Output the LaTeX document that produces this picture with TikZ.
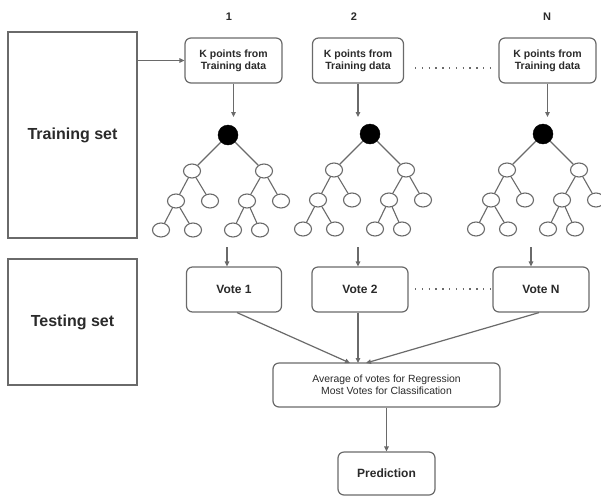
\documentclass[tikz,border=0pt]{standalone}
\usepackage{fontspec}
\setmainfont{Liberation Sans}
\usetikzlibrary{arrows.meta,shapes.geometric,calc}
\definecolor{linegray}{HTML}{6A6A6A}
\definecolor{textc}{HTML}{2A2A2A}
\tikzset{
  box/.style={draw=linegray, rounded corners=6pt, line width=1.2pt, inner sep=0pt, align=center, text=textc},
  bigbox/.style={draw=linegray, line width=1.2pt, inner sep=0pt, align=center, text=textc, font=\bfseries\fontsize{16}{19}\selectfont},
  kbox/.style={box, minimum height=45pt, font=\bfseries\fontsize{10.5}{12}\selectfont},
  vbox/.style={box, minimum height=45pt, font=\bfseries\fontsize{12}{14}\selectfont},
  rootnode/.style={circle, fill=black, draw=black, minimum size=20pt, inner sep=0pt},
  leaf/.style={ellipse, draw=linegray, line width=1.1pt, minimum width=17pt, minimum height=14pt, inner sep=0pt, fill=white},
  edge/.style={draw=linegray, line width=1.1pt},
  conn/.style={draw=linegray, line width=1.2pt, -{Triangle[length=5pt,width=4.5pt]}},
  dots/.style={draw=linegray, line width=1.3pt, dash pattern=on 1.3pt off 5.5pt},
  lbl/.style={text=textc, font=\bfseries\fontsize{11}{13}\selectfont, inner sep=0pt}
}
\newcommand\rftree[3]{%
  \node[rootnode] (#1r) at (#2,#3) {};
  \node[leaf] (#1a) at ($(#1r)+(-36,36)$) {};
  \node[leaf] (#1b) at ($(#1r)+(36,36)$) {};
  \node[leaf] (#1aa) at ($(#1r)+(-52,66)$) {};
  \node[leaf] (#1ab) at ($(#1r)+(-18,66)$) {};
  \node[leaf] (#1ba) at ($(#1r)+(19,66)$) {};
  \node[leaf] (#1bb) at ($(#1r)+(53,66)$) {};
  \node[leaf] (#1aaa) at ($(#1r)+(-67,95)$) {};
  \node[leaf] (#1aab) at ($(#1r)+(-35,95)$) {};
  \node[leaf] (#1baa) at ($(#1r)+(5,95)$) {};
  \node[leaf] (#1bab) at ($(#1r)+(32,95)$) {};
  \draw[edge] (#1r) -- (#1a);
  \draw[edge] (#1r) -- (#1b);
  \draw[edge] (#1a) -- (#1aa);
  \draw[edge] (#1a) -- (#1ab);
  \draw[edge] (#1b) -- (#1ba);
  \draw[edge] (#1b) -- (#1bb);
  \draw[edge] (#1aa) -- (#1aaa);
  \draw[edge] (#1aa) -- (#1aab);
  \draw[edge] (#1ba) -- (#1baa);
  \draw[edge] (#1ba) -- (#1bab);
}
\begin{document}
\begin{tikzpicture}[x=1pt,y=-1pt]
\useasboundingbox (0,0) rectangle (601,496);
\fill[white] (0,0) rectangle (601,496);
% big boxes
\node[bigbox, minimum width=129pt, minimum height=206pt] (train) at (72.5,135) {Training set};
\node[bigbox, minimum width=129pt, minimum height=126pt] (test) at (72.5,322) {Testing set};
% labels
\node[lbl] (l1) at (229,17) {1};
\node[lbl] (l2) at (354,17) {2};
\node[lbl] (lN) at (547,17) {N};
% K boxes
\node[kbox, minimum width=97pt] (k1) at (233.5,60.5) {K points from\\Training data};
\node[kbox, minimum width=91pt] (k2) at (358,60.5) {K points from\\Training data};
\node[kbox, minimum width=97pt] (kN) at (547.5,60.5) {K points from\\Training data};
\draw[conn] (train.east |- k1.west) -- (k1.west);
\coordinate (dk1) at (415,68);
\coordinate (dk2) at (490,68);
\draw[dots] (dk1) -- (dk2);
% trees
\rftree{ta}{228}{135}
\rftree{tb}{370}{134}
\rftree{tc}{543}{134}
\coordinate (e1) at (233.5,117);
\coordinate (e2) at (358,117);
\coordinate (eN) at (547.5,117);
\draw[conn] (k1.south) -- (e1);
\draw[conn] (k2.south) -- (e2);
\draw[conn] (kN.south) -- (eN);
% votes
\node[vbox, minimum width=95pt] (v1) at (234,289.5) {Vote 1};
\node[vbox, minimum width=96pt] (v2) at (360,289.5) {Vote 2};
\node[vbox, minimum width=96pt] (vN) at (541,289.5) {Vote N};
\coordinate (s1) at (227,247);
\coordinate (s2) at (358,247);
\coordinate (sN) at (531,247);
\draw[conn] (s1) -- (s1 |- v1.north);
\draw[conn] (s2) -- (s2 |- v2.north);
\draw[conn] (sN) -- (sN |- vN.north);
\coordinate (dv1) at (415,289);
\coordinate (dv2) at (490,289);
\draw[dots] (dv1) -- (dv2);
% average
\node[box, minimum width=227pt, minimum height=44pt, font=\fontsize{10.4}{12}\selectfont] (avg) at (386.5,385) {Average of votes for Regression\\Most Votes for Classification};
\coordinate (a1) at (350,363);
\coordinate (a2) at (358,363);
\coordinate (a3) at (366,363);
\draw[conn] ($(v1.south)+(3,0)$) -- (a1);
\draw[conn] (v2.south -| a2) -- (a2);
\draw[conn] ($(vN.south)+(-2,0)$) -- (a3);
% prediction
\node[vbox, minimum width=97pt, minimum height=43pt] (pred) at (386.5,473.5) {Prediction};
\draw[conn] (avg.south) -- (pred.north);
\end{tikzpicture}
\end{document}
